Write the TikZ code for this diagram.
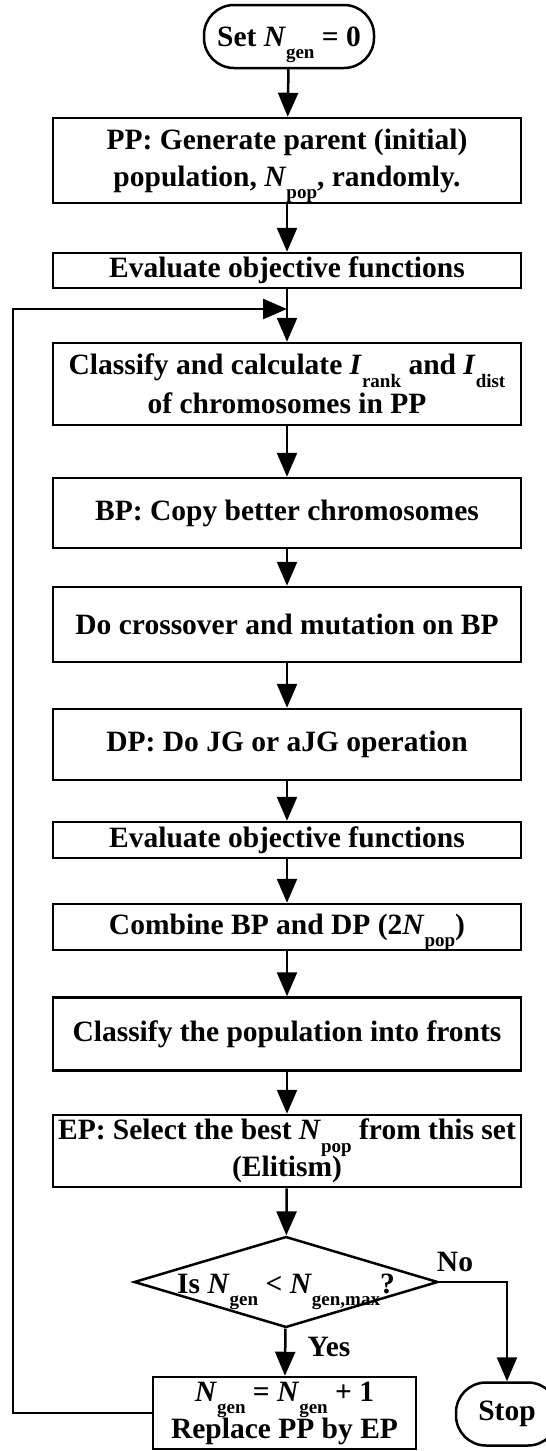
\documentclass[tikz,border=0pt]{standalone}
\usepackage{fontspec}
\setmainfont{Liberation Serif}
\usetikzlibrary{shapes.geometric,arrows.meta}
% index hangs below the line, takes no room
\newcommand\lowidx[1]{\raisebox{-0.42em}[0pt][0pt]{\fontsize{19}{19}\selectfont #1}}
\newcommand\Nv[1]{\textit{N}\lowidx{#1}}

\begin{document}
\begin{tikzpicture}[x=1pt, y=-1pt,
	txt/.style={font=\fontsize{29.5}{37}\selectfont\bfseries},
	proc/.style={txt, draw, line width=2.5pt, align=center, inner sep=0pt, minimum width=468pt},
	term/.style={txt, draw, line width=2.5pt, rounded corners=30pt, inner sep=0pt, minimum height=63pt},
	flow/.style={line width=2.5pt, -{Triangle[width=20pt,length=24pt]}}]
	\useasboundingbox (0,0) rectangle (546,1451);
	% main column
	\node[term, minimum width=170pt]   (start)   at (289,36.5) {Set \Nv{gen} = 0};
	\node[proc, minimum height=85pt]   (pp)      at (287,160.5) {PP: Generate parent (initial)\\population, \Nv{pop}, randomly.};
	\node[proc, minimum height=35pt]   (eval1)   at (287,270.5) {Evaluate objective functions};
	\node[proc, minimum height=82pt]   (rank)    at (287,384) {Classify and calculate \textit{I}\lowidx{rank} and \textit{I}\lowidx{dist}\\[2pt]of chromosomes in PP};
	\node[proc, minimum height=70pt]   (bp)      at (287,513) {BP: Copy better chromosomes};
	\node[proc, minimum height=75pt]   (cross)   at (287,624.5) {Do crossover and mutation on BP};
	\node[proc, minimum height=71pt]   (dp)      at (287,744.5) {DP: Do JG or aJG operation};
	\node[proc, minimum height=36pt]   (eval2)   at (287,840) {Evaluate objective functions};
	\node[proc, minimum height=46pt]   (comb)    at (287,927) {Combine BP and DP (2\Nv{pop})};
	\node[proc, minimum height=73pt]   (fronts)  at (287,1034) {Classify the population into fronts};
	\node[proc, minimum height=72pt]   (ep)      at (287,1151) {EP: Select the best \Nv{pop} from this set\\(Elitism)};
	\node[draw, line width=2.5pt, diamond, aspect=3.34, inner sep=0pt, minimum width=304pt, minimum height=91pt,
		label={[txt, yshift=-2pt]center:Is \Nv{gen} < \Nv{gen,max}?}] (check) at (286,1282) {};
	\node[proc, minimum width=263pt, minimum height=72pt] (upd) at (284.5,1413) {\Nv{gen} = \Nv{gen} + 1\\Replace PP by EP};
	\node[term, minimum width=102pt]   (stop)    at (507,1414) {Stop};
	\node[txt] (no)  at (455,1262) {No};
	\node[txt] (yes) at (329,1347) {Yes};
	\coordinate (join) at (287,309);
	\coordinate (lft)  at (13,309);
	% connectors
	\draw[flow] (start) -- (pp);
	\draw[flow] (pp) -- (eval1);
	\draw[flow] (eval1) -- (rank);
	\draw[flow] (rank) -- (bp);
	\draw[flow] (bp) -- (cross);
	\draw[flow] (cross) -- (dp);
	\draw[flow] (dp) -- (eval2);
	\draw[flow] (eval2) -- (comb);
	\draw[flow] (comb) -- (fronts);
	\draw[flow] (fronts) -- (ep);
	\draw[flow] (ep) -- (check);
	\draw[flow] (check) -- (upd);
	\draw[flow] (check.east) -| (stop.north);
	\draw[flow] (upd.west) -| (lft) -- (join);
\end{tikzpicture}
\end{document}
